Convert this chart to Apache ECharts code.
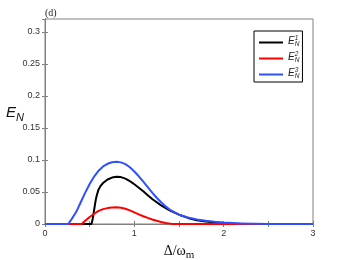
<!DOCTYPE html>
<html>
<head>
<meta charset="utf-8">
<script src="https://cdn.jsdelivr.net/npm/echarts@6/dist/echarts.min.js"></script>
<style>html,body{margin:0;padding:0;background:#fff}#c{width:346px;height:260px}</style>
</head>
<body>
<div id="c"></div>
<script>
// Data
const xTickLabels = ['0', '1', '2', '3'];
const seriesNames = ['E1', 'E2', 'E3'];

const e1Delta  = [0, 0.52, 0.53, 0.54, 0.55, 0.56, 0.57, 0.58, 0.6, 0.625, 0.65, 0.7, 0.75, 0.8, 0.85, 0.9, 0.95, 1.0, 1.05, 1.1, 1.15, 1.2, 1.3, 1.4, 1.5, 1.6, 1.7, 1.8, 1.9, 2.0, 2.1, 2.2, 3.0];
const e1Values = [0, 0, 0.005, 0.013, 0.022, 0.031, 0.039, 0.045, 0.054, 0.060, 0.064, 0.0695, 0.0725, 0.0738, 0.0732, 0.0708, 0.067, 0.062, 0.0565, 0.051, 0.045, 0.039, 0.029, 0.021, 0.0145, 0.0095, 0.006, 0.0038, 0.0022, 0.0012, 0.0005, 0, 0];

const e2Delta  = [0, 0.41, 0.45, 0.5, 0.55, 0.6, 0.65, 0.7, 0.75, 0.8, 0.85, 0.9, 0.95, 1.0, 1.05, 1.1, 1.15, 1.2, 1.25, 1.3, 1.35, 1.4, 1.43, 3.0];
const e2Values = [0, 0, 0.005, 0.011, 0.016, 0.0205, 0.0232, 0.0248, 0.0257, 0.026, 0.0255, 0.0238, 0.0212, 0.0182, 0.015, 0.0121, 0.0095, 0.0071, 0.005, 0.0032, 0.0017, 0.0006, 0, 0];

const e3Delta  = [0, 0.26, 0.3, 0.35, 0.4, 0.45, 0.5, 0.55, 0.6, 0.65, 0.7, 0.75, 0.8, 0.85, 0.9, 0.95, 1.0, 1.05, 1.1, 1.15, 1.2, 1.25, 1.3, 1.35, 1.4, 1.5, 1.6, 1.7, 1.8, 1.9, 2.0, 2.1, 2.2, 2.35, 2.5, 3.0];
const e3Values = [0, 0, 0.008, 0.019, 0.034, 0.049, 0.0625, 0.074, 0.0832, 0.0898, 0.094, 0.0963, 0.097, 0.0962, 0.0935, 0.0885, 0.082, 0.0745, 0.066, 0.0575, 0.049, 0.041, 0.034, 0.0275, 0.022, 0.0145, 0.0102, 0.0072, 0.005, 0.0034, 0.0022, 0.0014, 0.0009, 0.0004, 0, 0];

const colors = ['#000000', '#ff0000', '#3050ff'];

function pairs(xs, ys) { return xs.map((x, i) => [x, ys[i]]); }

const chart = echarts.init(document.getElementById('c'), null, { renderer: 'canvas' });
const axisGray = '#808080';
const labelColor = '#333333';
const baseFont = 'Liberation Sans, Arial, sans-serif';

const legendRich = {
  e: { fontSize: 10, fontStyle: 'italic', fontFamily: baseFont, color: '#222' },
  sup: { fontSize: 6.5, fontStyle: 'italic', fontFamily: baseFont, color: '#222', verticalAlign: 'top', width: 0.1, padding: [0, 0, 6, 0] },
  sub: { fontSize: 6.5, fontStyle: 'italic', fontFamily: baseFont, color: '#222', verticalAlign: 'bottom', padding: [6, 0, 0, 0] }
};

const option = {
  animation: false,
  backgroundColor: '#fff',
  title: {
    text: '(d)', left: 40, top: 3,
    textStyle: { fontFamily: 'Liberation Serif, Times New Roman, serif', fontSize: 10, fontWeight: 'normal', color: '#222' }
  },
  grid: { left: 45, right: 33, top: 19, bottom: 36, show: true, borderColor: axisGray, borderWidth: 1, containLabel: false, outerBoundsMode: 'none' },
  legend: {
    orient: 'vertical', left: 254, top: 31,
    backgroundColor: '#fff', borderColor: '#000', borderWidth: 1,
    padding: [4, 3, 2, 5], itemGap: 3, itemWidth: 24, itemHeight: 2,
    icon: 'rect',
    data: seriesNames,
    formatter: function (name) {
      const k = name.slice(1);
      return '{e|E}{sup|' + k + '}{sub|N}';
    },
    textStyle: { rich: legendRich, height: 15 }
  },
  xAxis: [{
    type: 'value', min: 0, max: 3, interval: 0.5, position: 'bottom',
    name: '{a|Δ/ω}{m|m}', nameLocation: 'middle', nameGap: 17, nameMoveOverlap: false,
    nameTextStyle: {
      rich: {
        a: { fontFamily: 'Liberation Serif, Times New Roman, serif', fontSize: 14, color: '#111' },
        m: { fontFamily: 'Liberation Serif, Times New Roman, serif', fontSize: 11, color: '#111', verticalAlign: 'bottom', padding: [9, 0, 0, 0] }
      }
    },
    axisLine: { show: true, lineStyle: { color: axisGray } },
    axisTick: { inside: true, length: 3, lineStyle: { color: axisGray } },
    axisLabel: {
      fontSize: 9, fontFamily: baseFont, color: labelColor, margin: 5,
      formatter: v => (Math.abs(v - Math.round(v)) < 1e-9 ? xTickLabels[Math.round(v)] : '')
    },
    splitLine: { show: false }
  }, {
    type: 'value', min: 0, max: 3, interval: 0.5, position: 'top',
    axisLine: { show: true, lineStyle: { color: axisGray } },
    axisTick: { inside: true, length: 3, lineStyle: { color: axisGray } },
    axisLabel: { show: false }, splitLine: { show: false }
  }],
  yAxis: [{
    type: 'value', min: 0, max: 0.32, interval: 0.05, position: 'left',
    name: '{e|E}{n|N}', nameLocation: 'middle', nameRotate: 0, nameGap: 21, nameMoveOverlap: false,
    nameTextStyle: {
      padding: [0, 0, 18, 0],
      rich: {
        e: { fontFamily: baseFont, fontStyle: 'italic', fontSize: 15, color: '#111' },
        n: { fontFamily: baseFont, fontStyle: 'italic', fontSize: 11, color: '#111', verticalAlign: 'bottom', padding: [10, 0, 0, 0] }
      }
    },
    axisLine: { show: true, lineStyle: { color: axisGray } },
    axisTick: { inside: true, length: 3, lineStyle: { color: axisGray } },
    axisLabel: { fontSize: 9, fontFamily: baseFont, color: labelColor, margin: 5, showMaxLabel: false },
    splitLine: { show: false }
  }, {
    type: 'value', min: 0, max: 0.32, interval: 0.05, position: 'right',
    axisLine: { show: true, lineStyle: { color: axisGray } },
    axisTick: { inside: true, length: 3, lineStyle: { color: axisGray } },
    axisLabel: { show: false }, splitLine: { show: false }
  }],
  series: [
    { name: seriesNames[0], type: 'line', data: pairs(e1Delta, e1Values) },
    { name: seriesNames[1], type: 'line', data: pairs(e2Delta, e2Values) },
    { name: seriesNames[2], type: 'line', data: pairs(e3Delta, e3Values) }
  ].map((s, i) => Object.assign(s, {
    showSymbol: false, symbol: 'none', smooth: false,
    lineStyle: { color: colors[i], width: 2, join: 'round' }, itemStyle: { color: colors[i] }, z: 2 + i
  }))
};
chart.setOption(option);
</script>
</body>
</html>
